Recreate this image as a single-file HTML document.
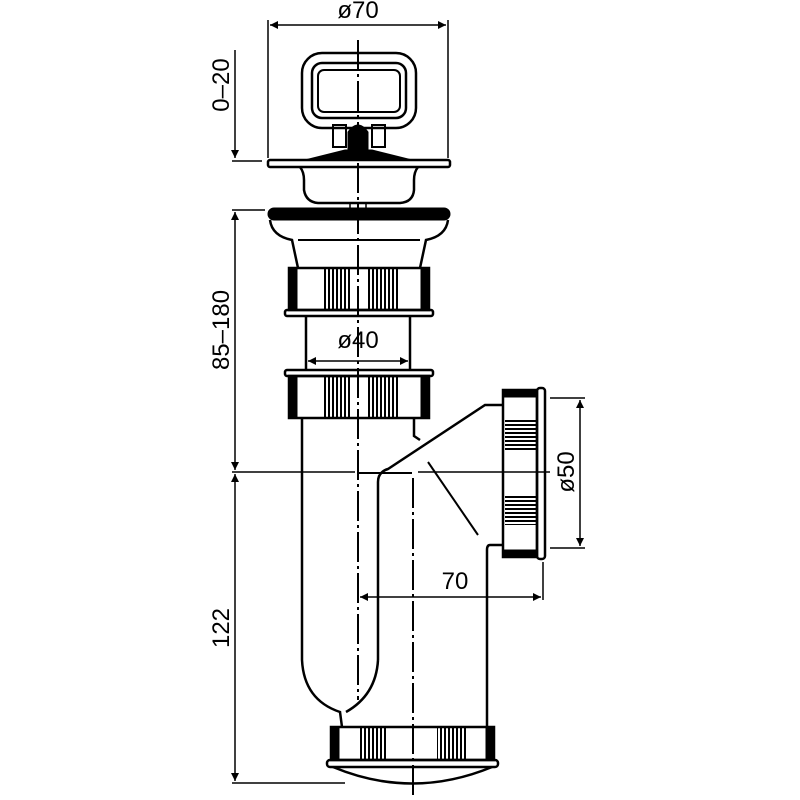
<!DOCTYPE html>
<html><head><meta charset="utf-8"><style>
html,body{margin:0;padding:0;background:#fff}
svg{display:block}
text{font-family:"Liberation Sans",sans-serif;fill:#000;font-size:24px}
</style></head><body>
<svg width="800" height="800" viewBox="0 0 800 800" xmlns="http://www.w3.org/2000/svg">
<defs>
<marker id="a" viewBox="0 0 10 10" refX="10" refY="5" markerWidth="22" markerHeight="8" markerUnits="userSpaceOnUse" orient="auto-start-reverse"><path d="M0,0L10,5L0,10z" fill="#000"/></marker>
<pattern id="s" width="4" height="4" patternUnits="userSpaceOnUse"><rect width="2" height="4" fill="#000"/></pattern>
<pattern id="h" width="4" height="4" patternUnits="userSpaceOnUse"><rect width="4" height="2" fill="#000"/></pattern>
</defs>
<g stroke="#000" fill="none">
<line x1="268" y1="20" x2="268" y2="158" stroke-width="1.5"/>
<line x1="448" y1="20" x2="448" y2="158" stroke-width="1.5"/>
<line x1="270" y1="25" x2="446" y2="25" stroke-width="1.5" marker-start="url(#a)" marker-end="url(#a)"/>
<rect x="302" y="53" width="114" height="75" rx="20" stroke-width="2.5"/>
<rect x="312" y="63" width="94" height="55" rx="10" stroke-width="2.5"/>
<rect x="318" y="70" width="82" height="42" rx="6" stroke-width="2"/>
<rect x="333" y="125" width="13" height="22" stroke-width="2"/>
<rect x="372" y="125" width="13" height="22" stroke-width="2"/>
<path d="M348,150 L348,132 Q358,118 368,132 L368,150 Z" fill="#000" stroke-width="1"/>
<path d="M305,160 L345,150 L372,150 L412,160 Z" fill="#000" stroke-width="1"/>
<rect x="268" y="160" width="182" height="7" rx="2" stroke-width="2.5"/>
<path d="M300,167 Q304,172 304,180 L304,190 Q306,202 318,203 L400,203 Q413,202 414,190 L414,180 Q414,172 418,167" stroke-width="2.5"/>
<rect x="350" y="203" width="16" height="7" stroke-width="1.5"/>
<rect x="268" y="208" width="182" height="12" rx="6" fill="#000" stroke-width="1"/>
<path d="M270,220 Q272,236 292,240 L298,268 M448,220 Q446,236 426,240 L420,268" stroke-width="2.5"/>
<line x1="298" y1="240" x2="420" y2="240" stroke-width="2"/>
<rect x="289" y="268" width="140" height="42" stroke-width="2.5"/>
<rect x="289" y="268" width="8" height="42" fill="#000"/>
<rect x="421" y="268" width="8" height="42" fill="#000"/>
<rect x="285" y="310" width="148" height="6" rx="2" stroke-width="2.5"/>
<line x1="306" y1="316" x2="306" y2="370" stroke-width="2.5"/>
<line x1="410" y1="316" x2="410" y2="370" stroke-width="2.5"/>
<line x1="308" y1="361" x2="408" y2="361" stroke-width="1.5" marker-start="url(#a)" marker-end="url(#a)"/>
<rect x="285" y="370" width="148" height="6" rx="2" stroke-width="2.5"/>
<rect x="289" y="376" width="140" height="42" stroke-width="2.5"/>
<rect x="289" y="376" width="8" height="42" fill="#000"/>
<rect x="421" y="376" width="8" height="42" fill="#000"/>
<line x1="302" y1="418" x2="302" y2="660" stroke-width="2.5"/>
<path d="M302,660 Q304,700 340,712 L342,727" stroke-width="2.5"/>
<path d="M378,660 Q376,695 346,712" stroke-width="2.5"/>
<path d="M378,660 L378,482 Q378,472 388,469 L485,405 L503,405" stroke-width="2.5"/>
<path d="M414,418 L414,436 L420,440" stroke-width="2.5"/>
<line x1="358" y1="473" x2="412" y2="473" stroke-width="2"/>
<line x1="428" y1="462" x2="478" y2="535" stroke-width="2"/>
<path d="M503,545 L490,545 Q487,545 487,550 L487,727" stroke-width="2.5"/>
<rect x="503" y="390" width="34" height="167" stroke-width="2.5"/>
<rect x="503" y="390" width="34" height="7" fill="#000"/>
<rect x="503" y="550" width="34" height="7" fill="#000"/>
<rect x="537" y="388" width="8" height="171" rx="3" stroke-width="2.5"/>
<line x1="550" y1="398" x2="585" y2="398" stroke-width="1.5"/>
<line x1="550" y1="548" x2="585" y2="548" stroke-width="1.5"/>
<line x1="580" y1="400" x2="580" y2="546" stroke-width="1.5" marker-start="url(#a)" marker-end="url(#a)"/>
<line x1="543" y1="562" x2="543" y2="600" stroke-width="1.5"/>
<line x1="360" y1="597" x2="541" y2="597" stroke-width="1.5" marker-start="url(#a)" marker-end="url(#a)"/>
<rect x="331" y="727" width="163" height="33" stroke-width="2.5"/>
<rect x="331" y="727" width="8" height="33" fill="#000"/>
<rect x="486" y="727" width="8" height="33" fill="#000"/>
<rect x="327" y="760" width="171" height="7" rx="3" stroke-width="2.5"/>
<path d="M333,767 Q412,800 492,767" stroke-width="2.5"/>
<line x1="235" y1="50" x2="235" y2="158" stroke-width="1.5" marker-end="url(#a)"/>
<line x1="235" y1="212" x2="235" y2="470" stroke-width="1.5" marker-start="url(#a)" marker-end="url(#a)"/>
<line x1="235" y1="474" x2="235" y2="781" stroke-width="1.5" marker-start="url(#a)" marker-end="url(#a)"/>
<line x1="232" y1="161" x2="262" y2="161" stroke-width="1.5"/>
<line x1="232" y1="210" x2="265" y2="210" stroke-width="1.5"/>
<line x1="232" y1="472" x2="355" y2="472" stroke-width="1.5"/>
<line x1="232" y1="783" x2="345" y2="783" stroke-width="1.5"/>
<line x1="418" y1="472" x2="550" y2="472" stroke-width="1.5"/>
<line x1="358" y1="40" x2="358" y2="700" stroke-width="2" stroke-dasharray="30,4,3,4"/>
<line x1="413" y1="478" x2="413" y2="795" stroke-width="2" stroke-dasharray="30,4,3,4"/>
</g>
<rect x="322" y="269" width="28" height="40" fill="url(#s)"/>
<rect x="368" y="269" width="30" height="40" fill="url(#s)"/>
<rect x="322" y="377" width="28" height="40" fill="url(#s)"/>
<rect x="368" y="377" width="30" height="40" fill="url(#s)"/>
<rect x="358" y="728" width="30" height="31" fill="url(#s)"/>
<rect x="437" y="728" width="30" height="31" fill="url(#s)"/>
<rect x="505" y="420" width="31" height="30" fill="url(#h)"/>
<rect x="505" y="495" width="31" height="30" fill="url(#h)"/>
<text x="358" y="18" text-anchor="middle">ø70</text>
<text x="358" y="348" text-anchor="middle">ø40</text>
<text x="455" y="589" text-anchor="middle">70</text>
<text transform="translate(574,472) rotate(-90)" text-anchor="middle">ø50</text>
<text transform="translate(229,85) rotate(-90)" text-anchor="middle">0–20</text>
<text transform="translate(229,330) rotate(-90)" text-anchor="middle">85–180</text>
<text transform="translate(229,628) rotate(-90)" text-anchor="middle">122</text>
</svg>
</body></html>
